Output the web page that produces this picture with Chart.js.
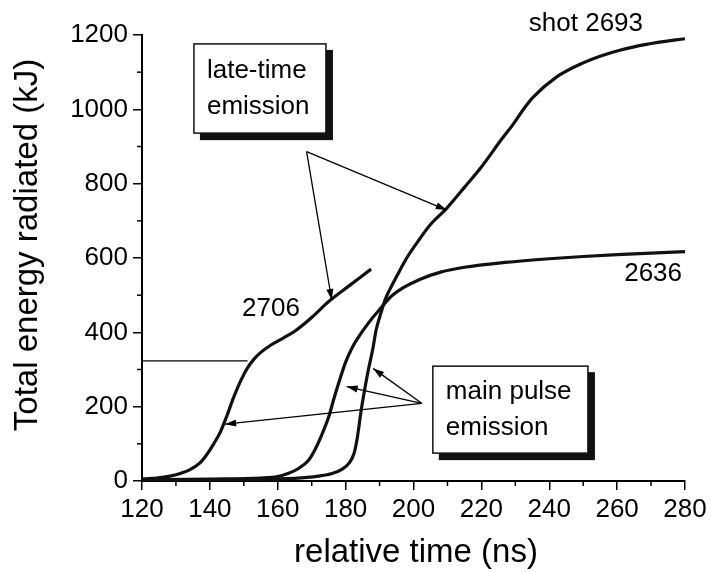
<!DOCTYPE html>
<html><head><meta charset="utf-8">
<script src="https://cdn.jsdelivr.net/npm/chart.js@4/dist/chart.umd.min.js"></script>
<style>html,body{margin:0;padding:0;background:#fff}#wrap{width:711px;height:572px}</style>
</head><body><div id="wrap"><canvas id="c" width="711" height="572"></canvas></div>
<script>
// ---- data ----
const shot2706X = [120,126,130,134,137,139,141,143,145,147,149,151,153,155,158,161.5,165,170,175,181,187.5];
const shot2706Y = [5,10,17,30,48,70,98,130,175,225,268,303,328,346,366,384,403,440,483,525,570];
const shot2636X = [120,140,155,160,163,166,169,171,173,175,176.5,178,180,182,184,186,188,190,193,197,202,208,215,227,240,250,260,270,280];
const shot2636Y = [3,5,8,12,20,33,55,85,125,172,220,265,320,360,390,416,440,461,493,520,543,562,575,588,598,604,609,613,617];
const shot2693X = [120,150,165,172,176,179,181,182.5,183.5,184.5,185.5,186.5,188,189,190.5,191.6,193,195,198,201.8,205,209.7,215,220,226,229.3,232,235.2,242,250,257,265,272,280];
const shot2693Y = [2,4,7,13,20,32,48,75,120,185,240,290,355,407,455,487,515,550,600,651,690,733,790,845,920,959,995,1032,1086,1125,1149,1168,1180,1190];
const xTicks = [120,140,160,180,200,220,240,260,280];
const yTicks = [0,200,400,600,800,1000,1200];
const xMinor = [130,150,170,190,210,230,250,270];
const yMinor = [100,300,500,700,900,1100];
const seriesLabels = ['shot 2693','2636','2706'];
const xTitle = 'relative time (ns)';
const yTitle = 'Total energy radiated (kJ)';
const refLevel = 323; // horizontal reference line (kJ)
const refLevelEnd = 151.1; // ns

const pts = (xs, ys) => xs.map((x, i) => ({x: x, y: ys[i]}));
const FONT = '"Liberation Sans", Arial, sans-serif';

const ds = (label, data) => ({
  label, data, borderColor: '#111', borderWidth: 3.2, pointRadius: 0,
  cubicInterpolationMode: 'monotone', fill: false
});

function arrow(ctx, x0, y0, x1, y1) {
  ctx.beginPath(); ctx.moveTo(x0, y0); ctx.lineTo(x1, y1); ctx.stroke();
  const a = Math.atan2(y1 - y0, x1 - x0), L = 11, W = 3.5;
  ctx.beginPath();
  ctx.moveTo(x1, y1);
  ctx.lineTo(x1 - L * Math.cos(a) + W * Math.sin(a), y1 - L * Math.sin(a) - W * Math.cos(a));
  ctx.lineTo(x1 - L * Math.cos(a) - W * Math.sin(a), y1 - L * Math.sin(a) + W * Math.cos(a));
  ctx.closePath(); ctx.fill();
}

function box(ctx, xs, ys, x0, y0, x1, y1, lines) {
  const L = xs.getPixelForValue(x0), R = xs.getPixelForValue(x1);
  const T = ys.getPixelForValue(y0), B = ys.getPixelForValue(y1);
  ctx.fillStyle = '#111';
  ctx.fillRect(L + 6, T + 6, R - L + 1, B - T + 1);
  ctx.fillStyle = '#fff';
  ctx.fillRect(L, T, R - L, B - T);
  ctx.lineWidth = 1.5; ctx.strokeStyle = '#111';
  ctx.strokeRect(L, T, R - L, B - T);
  ctx.fillStyle = '#000';
  ctx.font = '26px ' + FONT;
  ctx.textAlign = 'left'; ctx.textBaseline = 'middle';
  const cy = (T + B) / 2;
  ctx.fillText(lines[0], L + 13, cy - 18);
  ctx.fillText(lines[1], L + 13, cy + 18);
}

const deco = {
  id: 'deco',
  afterDraw(chart) {
    const ctx = chart.ctx, xs = chart.scales.x, ys = chart.scales.y;
    const X = v => xs.getPixelForValue(v), Y = v => ys.getPixelForValue(v);
    ctx.save();
    // minor ticks
    ctx.strokeStyle = '#000'; ctx.lineWidth = 1.5;
    const ax = X(120), ay = Y(0);
    yMinor.forEach(v => { ctx.beginPath(); ctx.moveTo(ax, Y(v)); ctx.lineTo(ax - 5, Y(v)); ctx.stroke(); });
    xMinor.forEach(v => { ctx.beginPath(); ctx.moveTo(X(v), ay); ctx.lineTo(X(v), ay + 5); ctx.stroke(); });
    // reference horizontal line
    ctx.lineWidth = 1.3;
    ctx.beginPath(); ctx.moveTo(X(120), Y(refLevel)); ctx.lineTo(X(refLevelEnd), Y(refLevel)); ctx.stroke();
    // arrows
    ctx.fillStyle = '#000'; ctx.lineWidth = 1.3;
    const o1 = [X(168.5), Y(886)];
    arrow(ctx, o1[0], o1[1], X(175.9), Y(487));
    arrow(ctx, o1[0], o1[1], X(209.8), Y(729));
    const o2 = [X(202.4), Y(209)];
    arrow(ctx, o2[0], o2[1], X(188.1), Y(303));
    arrow(ctx, o2[0], o2[1], X(180.3), Y(254));
    arrow(ctx, o2[0], o2[1], X(144.5), Y(153));
    // boxes
    box(ctx, xs, ys, 135.3, 1176, 174.2, 936, ['late-time', 'emission']);
    box(ctx, xs, ys, 205.7, 309, 251.4, 75, ['main pulse', 'emission']);
    // series labels
    ctx.fillStyle = '#000'; ctx.font = '26px ' + FONT;
    ctx.textAlign = 'center'; ctx.textBaseline = 'middle';
    ctx.fillText(seriesLabels[0], X(250.8), Y(1229));
    ctx.fillText(seriesLabels[1], X(270.6), Y(557));
    ctx.fillText(seriesLabels[2], X(158.0), Y(463));
    // axis titles
    ctx.font = '33px ' + FONT;
    ctx.fillText(xTitle, 416, 553);
    ctx.translate(27.5, 245); ctx.rotate(-Math.PI / 2);
    ctx.fillText(yTitle, 0, 0);
    ctx.restore();
  }
};

new Chart(document.getElementById('c'), {
  type: 'line',
  data: { datasets: [
    ds(seriesLabels[0], pts(shot2693X, shot2693Y)),
    ds(seriesLabels[1], pts(shot2636X, shot2636Y)),
    ds(seriesLabels[2], pts(shot2706X, shot2706Y))
  ]},
  options: {
    responsive: false, animation: false, devicePixelRatio: 1,
    layout: { padding: { top: 35, right: 26, left: 0, bottom: 0 } },
    plugins: { legend: { display: false }, tooltip: { enabled: false } },
    scales: {
      x: {
        type: 'linear', min: 120, max: 280,
        afterFit(s) { s.height = 91; },
        afterBuildTicks(s) { s.ticks = xTicks.map(v => ({ value: v })); },
        ticks: { font: { family: FONT, size: 26 }, color: '#000', padding: 4, maxRotation: 0, autoSkip: false, callback: v => String(v) },
        grid: { drawOnChartArea: false, drawTicks: true, tickLength: 9, color: '#000', lineWidth: 1.5 },
        border: { display: true, color: '#000', width: 2 }
      },
      y: {
        type: 'linear', min: 0, max: 1200,
        afterFit(s) { s.width = 142; },
        afterBuildTicks(s) { s.ticks = yTicks.map(v => ({ value: v })); },
        ticks: { font: { family: FONT, size: 26 }, color: '#000', padding: 5, autoSkip: false, callback: v => String(v) },
        grid: { drawOnChartArea: false, drawTicks: true, tickLength: 9, color: '#000', lineWidth: 1.5 },
        border: { display: true, color: '#000', width: 2 }
      }
    }
  },
  plugins: [deco]
});
</script></body></html>
